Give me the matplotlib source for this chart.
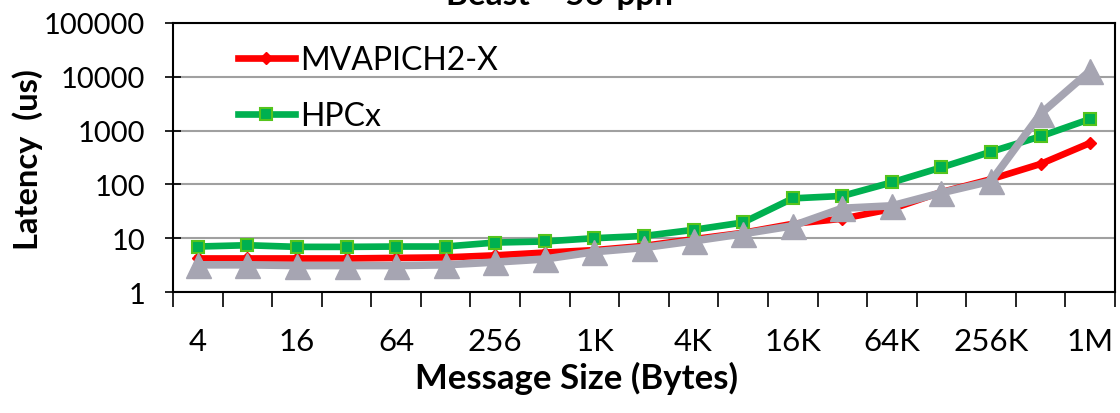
import matplotlib
matplotlib.use('Agg')
import matplotlib.pyplot as plt
import numpy as np

plt.rcParams['font.family'] = ['Lato', 'DejaVu Sans']

# message sizes (categories)
sizes = ['4', '8', '16', '32', '64', '128', '256', '512', '1K', '2K', '4K',
         '8K', '16K', '32K', '64K', '128K', '256K', '512K', '1M']

# latency (us)
mvapich = [4.2, 4.2, 4.2, 4.2, 4.3, 4.4, 4.8, 5.4, 6.0, 7.2, 9.6,
           12.6, 18.5, 23, 35, 72, 125, 240, 590]
hpcx = [7.0, 7.4, 6.9, 6.9, 7.0, 7.0, 8.3, 8.7, 10.0, 11.0, 14.3,
        19.6, 55, 61, 109, 207, 405, 783, 1645]
other = [3.2, 3.2, 3.1, 3.1, 3.1, 3.2, 3.6, 4.1, 5.6, 6.7, 8.9,
         12.1, 17, 36, 40, 70, 115, 2055, 12980]

xlabels = ['4', '16', '64', '256', '1K', '4K', '16K', '64K', '256K', '1M']

x = np.arange(len(sizes))

fig = plt.figure(figsize=(11.2, 4.14), dpi=100)
ax = fig.add_axes([173/1120, 1-293/414, (1115-173)/1120, (293-24)/414])

ax.plot(x, mvapich, color='#FF0000', lw=4.8, marker='D', ms=6,
        mfc='#FF0000', mec='#FF0000', label='MVAPICH2-X', zorder=3)
ax.plot(x, hpcx, color='#00B050', lw=4.8, marker='s', ms=9,
        mfc='#00B050', mec='#55C41C', mew=1.5, label='HPCx', zorder=4)
ax.plot(x, other, color='#A6A5B2', lw=5.5, marker='^', ms=18,
        mfc='#A6A5B2', mec='#A6A5B2', zorder=5)

ax.set_yscale('log')
ax.set_ylim(1, 100000)
ax.set_yticks([1, 10, 100, 1000, 10000, 100000])
ax.set_yticklabels(['1', '10', '100', '1000', '10000', '100000'])
ax.yaxis.set_minor_locator(matplotlib.ticker.NullLocator())
ax.tick_params(axis='y', which='major', direction='inout', length=12,
               width=1.2, labelsize=21, pad=14)
ax.grid(axis='y', color='#A0A0A0', lw=1.5)

ax.set_xlim(-0.5, len(sizes)-0.5)
ax.set_xticks(np.arange(len(sizes)+1)-0.5)
ax.set_xticklabels([])
ax.set_xticks(x[::2], minor=True)
ax.set_xticklabels(xlabels, minor=True)
ax.tick_params(axis='x', which='major', direction='out', length=11, width=1.2)
ax.tick_params(axis='x', which='minor', length=0, labelsize=22.5, pad=25)

for s in ax.spines.values():
    s.set_linewidth(1.5)
    s.set_color('black')

ax.set_axisbelow(True)

leg = ax.legend(loc='upper left', bbox_to_anchor=(0.055, 0.965), frameon=False,
                fontsize=23, handlelength=1.8, handletextpad=0.15,
                labelspacing=0.8, borderaxespad=0)

fig.text(0.5, 1-5/414, 'Beast \u2013 56-ppn', ha='center', va='baseline',
         fontsize=24, fontweight='bold')
fig.text(28/1120, 1-160/414, 'Latency  (us)', rotation=90, ha='center',
         va='center', fontsize=23.5, fontweight='bold')
fig.text(577/1120, 1-378/414, 'Message Size (Bytes)', ha='center',
         va='center', fontsize=25, fontweight='bold')

fig.savefig('out.png', dpi=100)
